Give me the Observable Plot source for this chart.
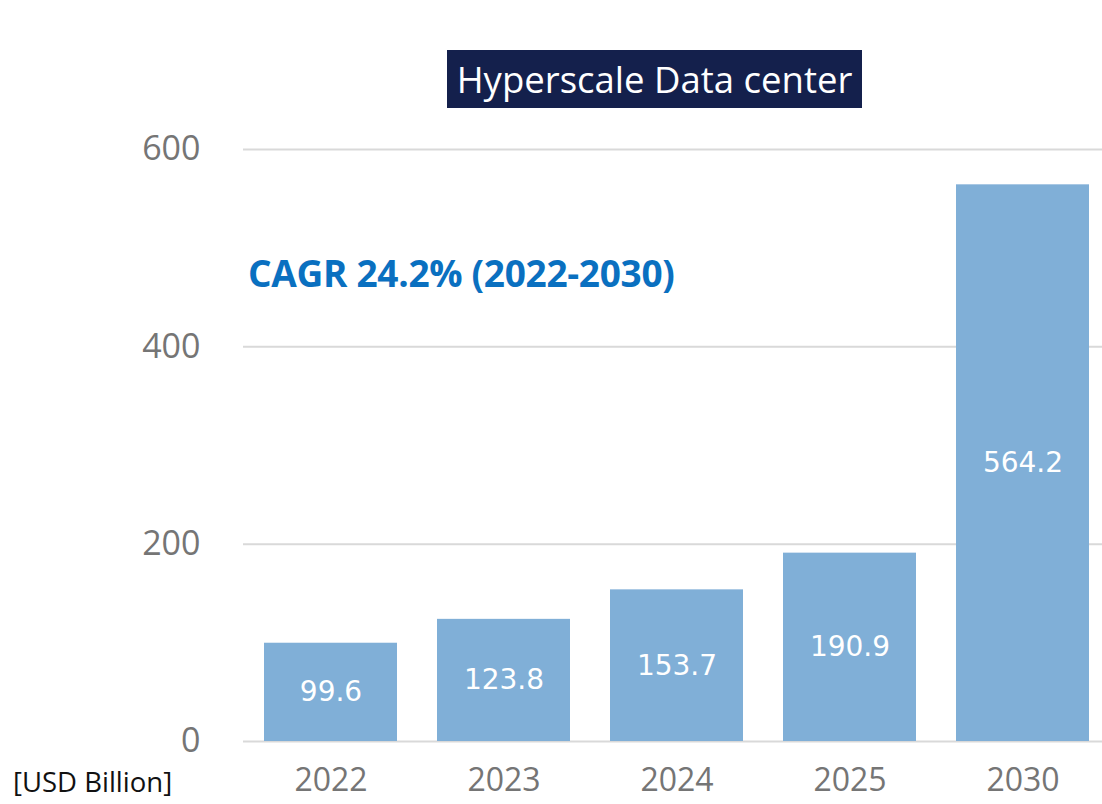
<!DOCTYPE html>
<html>
<head>
<meta charset="utf-8">
<script src="https://cdn.jsdelivr.net/npm/d3@7"></script>
<script src="https://cdn.jsdelivr.net/npm/@observablehq/plot@0.6"></script>
<style>
  body { margin: 0; background: #fff; }
  #wrap { position: relative; width: 1102px; height: 804px; overflow: hidden; }
  #title { position: absolute; left: 447px; top: 50px; width: 415px; height: 58px; background: #14204c; color: #fff;
    font-family: "Open Sans", sans-serif; font-size: 36.5px; line-height: 58px; text-align: center; }
  #cagr { position: absolute; left: 248px; top: 248px; color: #0a70c0; font-family: "Open Sans", sans-serif; font-weight: bold; font-size: 37px; line-height: 50px; letter-spacing: -0.3px; }
  #unit { position: absolute; left: 13px; top: 764px; color: #111; font-family: "Open Sans", sans-serif; font-size: 27.5px; line-height: 36px; }
  #wrap svg { position: absolute; left: 0; top: 0; }
</style>
</head>
<body>
<div id="wrap">
  <div id="chart"></div>
  <div id="title">Hyperscale Data center</div>
  <div id="cagr">CAGR 24.2% (2022-2030)</div>
  <div id="unit">[USD Billion]</div>
</div>
<script>
const years = ["2022", "2023", "2024", "2025", "2030"];
const values = [99.6, 123.8, 153.7, 190.9, 564.2];
const yTicks = [0, 200, 400, 600];

const data = years.map((y, i) => ({year: y, value: values[i]}));

const chart = Plot.plot({
  width: 1102,
  height: 804,
  marginLeft: 243,
  marginRight: -8,
  marginTop: 149,
  marginBottom: 63,
  style: { fontFamily: "Open Sans, sans-serif", background: "transparent", overflow: "visible" },
  x: { domain: years, paddingInner: 0.233, paddingOuter: 0.115, label: null },
  y: { domain: [0, 600], label: null },
  marks: [
    Plot.ruleY(yTicks, { stroke: "#d9d9d9", strokeWidth: 2 }),
    Plot.barY(data, { x: "year", y: "value", fill: "#80afd7" }),
    Plot.text(data, { x: "year", y: d => d.value / 2, text: d => d.value.toFixed(1), fill: "#fff",
      fontFamily: "DejaVu Sans, sans-serif", fontSize: 28 }),
    Plot.axisY(yTicks, { tickSize: 0, tickPadding: 43, fontSize: 34, color: "#757575", label: null }),
    Plot.axisX({ tickSize: 0, tickPadding: 27, fontSize: 32, color: "#757575", label: null })
  ]
});
document.getElementById("chart").appendChild(chart);
</script>
</body>
</html>
